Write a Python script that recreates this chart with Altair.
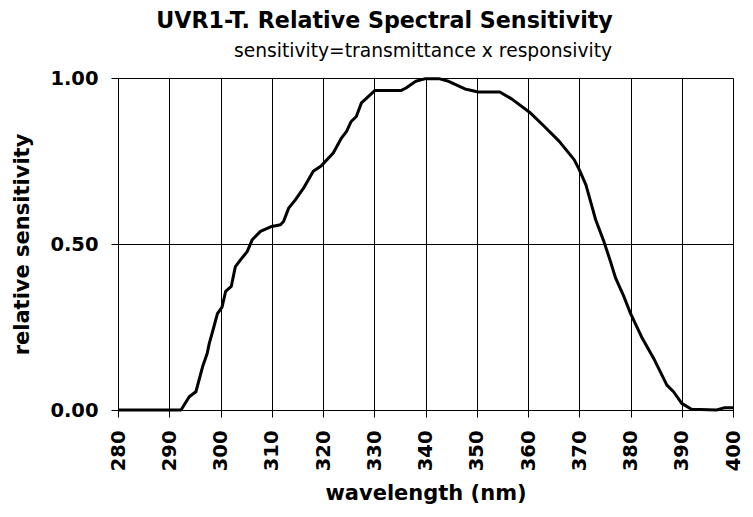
import altair as alt
import pandas as pd

# wavelength (nm) and relative sensitivity
wavelength = [280, 292.3, 293.9, 295.2, 296.5, 297.4, 297.8, 298.7, 299.4, 300.3,
              301.0, 302.1, 302.9, 303.9, 305.2, 306.2, 307.8, 310.0, 311.7, 312.3,
              313.3, 314.6, 316.2, 318.1, 319.7, 322.0, 323.6, 324.6, 325.5, 326.5,
              327.5, 330.1, 335.2, 336.2, 338.1, 340.0, 342.6, 344.5, 347.7, 350.3,
              354.5, 356.8, 360.3, 363.2, 366.1, 369.0, 370.0, 371.3, 372.3, 373.2,
              374.8, 376.1, 377.1, 378.7, 380.0, 382.3, 384.5, 387.1, 388.4, 390.0,
              391.9, 396.8, 398.4, 400]
sensitivity = [0.0, 0.0, 0.04, 0.055, 0.13, 0.17, 0.20, 0.25, 0.29, 0.31,
               0.357, 0.372, 0.432, 0.452, 0.477, 0.513, 0.538, 0.553, 0.558, 0.568,
               0.608, 0.633, 0.668, 0.719, 0.736, 0.774, 0.819, 0.839, 0.869, 0.884,
               0.925, 0.962, 0.962, 0.970, 0.990, 0.998, 0.998, 0.990, 0.967, 0.958,
               0.958, 0.937, 0.897, 0.854, 0.809, 0.754, 0.724, 0.678, 0.623, 0.573,
               0.508, 0.447, 0.397, 0.342, 0.291, 0.216, 0.156, 0.075, 0.055, 0.020,
               0.002, 0.0, 0.007, 0.007]

x_ticks = list(range(280, 401, 10))
y_ticks = [0.0, 0.5, 1.0]

title_text = "UVR1-T. Relative Spectral Sensitivity"
subtitle_text = "sensitivity=transmittance x responsivity"
x_title = "wavelength (nm)"
y_title = "relative sensitivity"

FONT = "DejaVu Sans"

df = pd.DataFrame({"wl": wavelength, "s": sensitivity})

line = alt.Chart(df).mark_line(color="black", strokeWidth=3, strokeJoin="round").encode(
    x=alt.X("wl:Q",
            scale=alt.Scale(domain=[280, 400], nice=False, zero=False),
            axis=alt.Axis(values=x_ticks, title=x_title, labelAngle=-90,
                          format="d", labelPadding=13, titlePadding=12)),
    y=alt.Y("s:Q",
            scale=alt.Scale(domain=[0, 1], nice=False),
            axis=alt.Axis(values=y_ticks, title=y_title, format=".2f",
                          labelPadding=13, titlePadding=17)),
)

sub = alt.Chart(pd.DataFrame({"t": [subtitle_text]})).mark_text(
    font=FONT, fontSize=18.7, color="black", align="center", baseline="alphabetic"
).encode(
    text="t:N",
    x=alt.value(305),
    y=alt.value(-21),
)

chart = alt.layer(line, sub).properties(
    width=615,
    height=332,
    title=alt.TitleParams(title_text, anchor="middle", frame="group", dx=-41, dy=-6,
                          font=FONT, fontSize=22.2, fontWeight="bold", color="black"),
    autosize=alt.AutoSizeParams(type="none"),
    padding={"left": 110, "top": 70, "right": 12, "bottom": 97},
).configure_view(
    stroke=None
).configure_axis(
    domainColor="black", domainWidth=1,
    tickColor="black", tickSize=7, tickWidth=1,
    gridColor="black", gridWidth=1, gridOpacity=1,
    labelFont=FONT, labelFontSize=19.5, labelFontWeight="bold", labelColor="black",
    titleFont=FONT, titleFontSize=21, titleFontWeight="bold", titleColor="black",
    labelOverlap=False, labelFlush=False,
)

chart.save("out.html", embed_options={"renderer": "svg", "actions": False})
